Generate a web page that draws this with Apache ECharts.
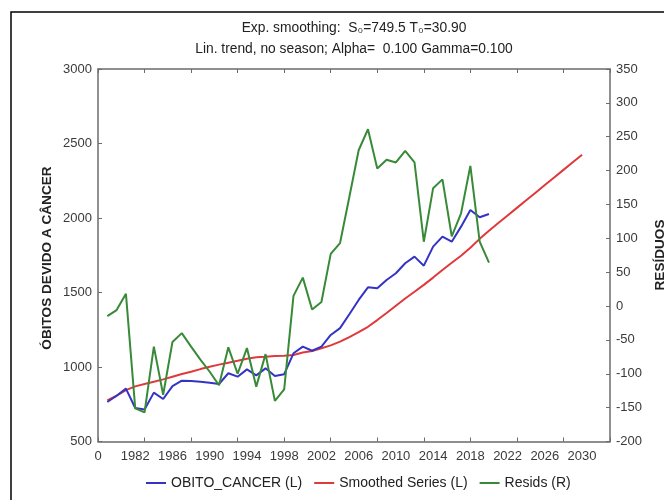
<!DOCTYPE html>
<html>
<head>
<meta charset="utf-8">
<script src="https://cdn.jsdelivr.net/npm/echarts@6/dist/echarts.min.js"></script>
<style>
  html, body { margin: 0; padding: 0; background: #fff; }
  #chart { width: 664px; height: 500px; }
</style>
</head>
<body>
<div id="chart"></div>
<script>
// Observed years and the forecast horizon
const obsYears = [1979,1980,1981,1982,1983,1984,1985,1986,1987,1988,1989,1990,1991,1992,1993,1994,1995,1996,1997,1998,
                  1999,2000,2001,2002,2003,2004,2005,2006,2007,2008,2009,2010,2011,2012,2013,2014,2015,2016,2017,2018,2019,2020];
const allYears = [1979,1980,1981,1982,1983,1984,1985,1986,1987,1988,1989,1990,1991,1992,1993,1994,1995,1996,1997,1998,
                  1999,2000,2001,2002,2003,2004,2005,2006,2007,2008,2009,2010,2011,2012,2013,2014,2015,2016,2017,2018,
                  2019,2020,2021,2022,2023,2024,2025,2026,2027,2028,2029,2030];

// Deaths due to cancer (left axis)
const obitoCancer = [765,807,855,725,715,828,785,872,908,906,901,895,886,958,935,984,944,991,940,952,
                     1092,1137,1109,1137,1215,1261,1354,1450,1535,1528,1584,1629,1696,1741,1680,1808,1875,1841,1942,2054,2005,2027];

// Exponentially smoothed series plus linear-trend forecast (left axis)
const smoothed = [776,807,845,870,886,901,917,935,953,968,986,1002,1016,1029,1042,1056,1065,1069,1074,1076,
                  1081,1097,1107,1126,1145,1170,1201,1234,1270,1315,1362,1411,1460,1505,1551,1600,1651,1700,1747,1800,
                  1860,1915,1966,2017,2068,2119,2170,2221,2272,2323,2374,2425];

// Residuals (right axis)
const resids = [-15,-6,18,-151,-157,-60,-131,-53,-40,-60,-79,-97,-117,-61,-100,-62,-119,-71,-140,-123,
                15,42,-5,6,77,93,161,230,261,203,216,212,229,212,95,174,187,103,137,207,95,64];

// Horizontal axis labels, one every 4 cases starting at case 0
const xLabels = ['0','1982','1986','1990','1994','1998','2002','2006','2010','2014','2018','2022','2026','2030'];
const firstCaseYear = 1978; // case number 0

const caseOf = y => y - firstCaseYear;
const pairs = (years, vals) => years.map((y, i) => [caseOf(y), vals[i]]);

const axisGray = '#6b6b6b';
const labelColor = '#3a3a3a';
const font = 'Arial, "Liberation Sans", Helvetica, sans-serif';

const chart = echarts.init(document.getElementById('chart'), null, { renderer: 'canvas' });

const tickAxis = (pos) => ({
  type: 'value', position: pos, min: 0, max: 55, interval: 5,
  axisLine: { show: true, onZero: false, lineStyle: { color: axisGray, width: 1.5 } },
  axisTick: { show: true, inside: true, length: 4, lineStyle: { color: axisGray, width: 1 } },
  axisLabel: { show: false },
  splitLine: { show: false }
});

const plainNumber = v => String(v);

chart.setOption({
  animation: false,
  backgroundColor: '#ffffff',
  textStyle: { fontFamily: font },
  grid: { left: 98, right: 54, top: 69, bottom: 58.5, containLabel: false },
  xAxis: [
    tickAxis('bottom'),
    tickAxis('top'),
    {
      type: 'value', position: 'bottom', min: 0, max: 55, interval: 4,
      axisLine: { show: false }, axisTick: { show: false }, splitLine: { show: false },
      axisLabel: {
        show: true, margin: 8, color: labelColor, fontSize: 13, fontFamily: font,
        showMaxLabel: false,
        formatter: v => (v % 4 === 0 && xLabels[v / 4] !== undefined) ? xLabels[v / 4] : ''
      }
    }
  ],
  yAxis: [
    {
      type: 'value', position: 'left', min: 500, max: 3000, interval: 500,
      axisLine: { show: true, onZero: false, lineStyle: { color: axisGray, width: 1.5 } },
      axisTick: { show: true, inside: true, length: 4, lineStyle: { color: axisGray } },
      axisLabel: { margin: 6, color: labelColor, fontSize: 13, fontFamily: font, formatter: plainNumber },
      splitLine: { show: false }
    },
    {
      type: 'value', position: 'right', min: -200, max: 350, interval: 50,
      axisLine: { show: true, onZero: false, lineStyle: { color: axisGray, width: 1.5 } },
      axisTick: { show: true, inside: true, length: 4, lineStyle: { color: axisGray } },
      axisLabel: { margin: 6, color: labelColor, fontSize: 13, fontFamily: font, formatter: plainNumber },
      splitLine: { show: false }
    }
  ],
  legend: {
    left: 141, top: 471,
    itemWidth: 20, itemHeight: 2, itemGap: 12,
    icon: 'rect',
    textStyle: { color: '#222', fontSize: 14, fontFamily: font },
    data: ['OBITO_CANCER (L)', 'Smoothed Series (L)', 'Resids (R)']
  },
  series: [
    {
      name: 'Smoothed Series (L)', type: 'line', xAxisIndex: 0, yAxisIndex: 0,
      data: pairs(allYears, smoothed), showSymbol: false, z: 3,
      lineStyle: { color: '#e0393c', width: 2 }, itemStyle: { color: '#e0393c' }
    },
    {
      name: 'OBITO_CANCER (L)', type: 'line', xAxisIndex: 0, yAxisIndex: 0,
      data: pairs(obsYears, obitoCancer), showSymbol: false, z: 4,
      lineStyle: { color: '#3434c4', width: 2 }, itemStyle: { color: '#3434c4' }
    },
    {
      name: 'Resids (R)', type: 'line', xAxisIndex: 0, yAxisIndex: 1,
      data: pairs(obsYears, resids), showSymbol: false, z: 5,
      lineStyle: { color: '#388a38', width: 2 }, itemStyle: { color: '#388a38' }
    }
  ],
  graphic: [
    // outer frame
    { type: 'rect', shape: { x: 11, y: 12, width: 700, height: 600 },
      style: { fill: 'none', stroke: '#000', lineWidth: 1.5 }, silent: true },
    { type: 'text', x: 354, y: 28,
      style: { text: 'Exp. smoothing:  S₀=749.5 T₀=30.90', fill: '#222', font: '13.8px ' + font,
               textAlign: 'center', textVerticalAlign: 'middle' } },
    { type: 'text', x: 354, y: 49,
      style: { text: 'Lin. trend, no season; Alpha=  0.100 Gamma=0.100', fill: '#222', font: '13.8px ' + font,
               textAlign: 'center', textVerticalAlign: 'middle' } },
    { type: 'text', x: 47, y: 258, rotation: Math.PI / 2,
      style: { text: 'ÓBITOS DEVIDO A CÂNCER', fill: '#222', font: 'bold 13.6px ' + font,
               textAlign: 'center', textVerticalAlign: 'middle' } },
    { type: 'text', x: 660, y: 255, rotation: Math.PI / 2,
      style: { text: 'RESÍDUOS', fill: '#222', font: 'bold 13.6px ' + font,
               textAlign: 'center', textVerticalAlign: 'middle' } }
  ]
});
</script>
</body>
</html>
